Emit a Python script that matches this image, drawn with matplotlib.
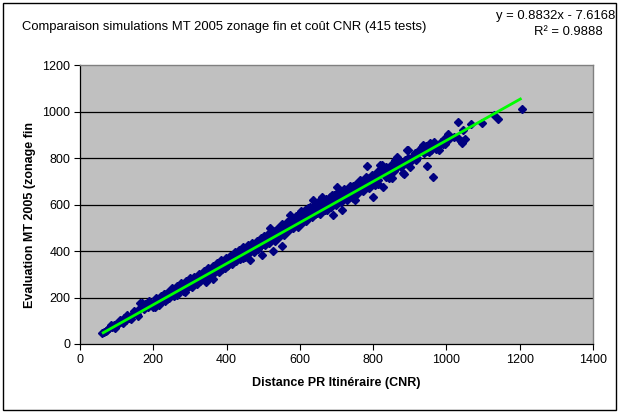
import matplotlib
matplotlib.use("Agg")
import matplotlib.pyplot as plt
from matplotlib.patches import Rectangle

plt.rcParams['font.family'] = ['Liberation Sans', 'DejaVu Sans']

# distance CNR (x) vs evaluation MT 2005 (y)
dist_cnr = [60, 65, 70, 75, 80, 88, 92, 98, 105, 110, 115, 120, 125, 130, 135, 140, 145, 150,
            155, 160, 164, 168, 172, 178, 182, 186, 190, 195, 200, 205, 210, 215, 218,
            222, 226, 230, 235, 238, 242, 246, 250, 254, 258, 262, 265, 270, 274, 278, 282,
            286, 290, 294, 298, 302, 305, 310, 314, 318, 320, 325, 328, 332, 336, 340, 344,
            348, 352, 356, 360, 364, 368, 372, 376, 380, 384, 388, 392, 396, 400,
            404, 408, 412, 416, 420, 424, 428, 432, 436, 440, 444, 448, 452, 456, 460, 464,
            468, 472, 476, 480, 484, 488, 492, 497, 500, 504, 508, 512, 518, 520, 524, 527,
            530, 534, 538, 542, 546, 551, 555, 558, 562, 566, 570, 573, 576, 580, 584, 588,
            592, 596, 600, 604, 608, 612, 616, 622, 626, 630, 636, 640, 644, 648, 652, 656,
            660, 664, 668, 672, 676, 680, 684, 688, 691, 696, 700,
            701, 705, 710, 715, 718, 722, 726, 730, 734, 738, 742, 746, 750, 754, 758, 762,
            766, 770, 774, 778, 783, 786, 790, 794, 800, 805, 808, 812, 816, 819, 824, 827,
            830, 832, 836, 840, 844, 851, 855, 860, 865, 868, 872, 876, 882, 884, 886, 892,
            896, 901, 905, 909, 915, 920, 925, 933, 936, 940, 947, 947, 952, 955, 960, 963,
            970, 975, 980, 985, 990, 997,
            1004, 1010, 1020, 1032, 1032, 1040, 1042, 1045, 1050, 1067, 1097, 1130, 1141, 1205,
            85, 95, 108, 118, 128, 138, 148, 158, 170, 176, 188, 198, 208, 214,
            228, 232, 240, 244, 252, 256, 264, 268, 276, 280, 288, 292, 300, 304, 312, 316,
            324, 330, 338, 342, 350, 354, 362, 366, 374, 378, 386, 390, 398, 402, 410, 414,
            422, 426, 434, 438, 446, 450, 458, 462, 470, 474, 482, 486, 494, 502, 506, 514,
            516, 526, 532, 540, 544, 550, 556, 564, 568, 578, 582, 590, 594, 602, 606, 614,
            618, 628, 634, 642, 650, 654, 662, 670, 674, 682, 686, 694, 698, 708, 712, 720,
            728, 736, 744, 752, 756, 764, 772, 780, 788, 796, 802, 810, 814, 822, 834, 842,
            848, 858, 863, 870, 878, 888, 894, 903, 912, 918, 928, 938, 944, 958, 966, 972,
            982, 994, 1000]
eval_mt = [47, 52, 58, 62, 70, 74, 80, 88, 88, 100, 96, 110, 104, 118, 112, 120, 128, 138,
           130, 150, 176, 160, 168, 172, 165, 160, 168, 175, 170, 160, 180, 168, 196,
           205, 190, 200, 215, 195, 210, 225, 212, 235, 220, 230, 210, 245, 232, 250, 238,
           225, 262, 250, 255, 270, 245, 275, 262, 280, 258, 290, 270, 300, 282, 288, 268,
           305, 295, 310, 300, 280, 320, 315, 332, 310, 335, 322, 340, 328, 352,
           340, 365, 350, 372, 360, 380, 368, 395, 378, 385, 372, 400, 388, 410, 395, 361,
           415, 405, 420, 410, 430, 418, 440, 383, 432, 452, 440, 460, 499, 450, 470, 400,
           462, 480, 468, 490, 478, 421, 500, 485, 510, 495, 520, 555, 505, 530, 515, 540,
           525, 548, 563, 535, 555, 540, 565, 585, 548, 570, 619, 558, 580, 565, 595, 575,
           632, 590, 575, 605, 590, 620, 600, 640, 555, 615, 630,
           675, 620, 645, 576, 630, 655, 640, 660, 635, 665, 650, 680, 619, 670, 690, 660,
           700, 680, 690, 705, 765, 690, 715, 700, 632, 684, 720, 705, 730, 770, 770, 675,
           735, 748, 720, 745, 730, 714, 760, 791, 804, 765, 775, 760, 735, 731, 790, 834,
           834, 761, 800, 804, 820, 800, 830, 847, 856, 840, 765, 829, 826, 864, 850, 718,
           855, 845, 834, 868, 860, 860,
           903, 885, 890, 955, 886, 875, 864, 920, 880, 946, 950, 985, 967, 1012,
           82, 70, 105, 92, 125, 108, 142, 122, 178, 150, 185, 158, 198, 170,
           215, 185, 225, 198, 240, 208, 250, 222, 262, 230, 272, 242, 282, 250, 290, 262,
           300, 275, 315, 280, 325, 290, 335, 305, 350, 318, 360, 325, 370, 335, 380, 345,
           395, 355, 405, 365, 418, 375, 425, 390, 435, 395, 445, 408, 455, 465, 425, 475,
           435, 488, 445, 500, 460, 515, 470, 525, 485, 540, 500, 552, 505, 570, 520, 578,
           530, 590, 545, 600, 610, 560, 615, 625, 575, 632, 590, 640, 600, 660, 610, 668,
           620, 680, 630, 690, 645, 705, 660, 720, 670, 728, 690, 740, 690, 755, 760, 715,
           770, 745, 780, 790, 780, 780, 800, 785, 815, 790, 840, 820, 850, 835, 870, 840,
           860, 880, 870]

# Excel linear trendline
slope = 0.8832
intercept = -7.6168

W, H = 620, 413
fig = plt.figure(figsize=(W / 100, H / 100), dpi=100)
ax = fig.add_axes([80 / W, 1 - 344 / H, 513 / W, 279 / H])
ax.set_facecolor('#c0c0c0')

for yv in range(200, 1200, 200):
    ax.axhline(yv, color='black', lw=0.9, zorder=1)

ax.plot(dist_cnr, eval_mt, linestyle='none', marker='D', markersize=4.0,
        color='#000080', zorder=2)

x_min, x_max = min(dist_cnr), max(dist_cnr)
ax.plot([x_min, x_max], [slope * x_min + intercept, slope * x_max + intercept],
        color='#00ff00', lw=2.0, zorder=3, solid_capstyle='butt')

ax.set_xlim(0, 1400)
ax.set_ylim(0, 1200)
ax.set_xticks(range(0, 1401, 200))
ax.set_yticks(range(0, 1201, 200))
ax.tick_params(direction='out', length=4, width=0.8, pad=3, labelsize=9, colors='black')

for side in ['top', 'right']:
    ax.spines[side].set_color('#808080')
    ax.spines[side].set_linewidth(1.0)
for side in ['left', 'bottom']:
    ax.spines[side].set_color('black')
    ax.spines[side].set_linewidth(0.9)

ax.set_xlabel('Distance PR Itinéraire (CNR)', fontsize=9, fontweight='bold', labelpad=8)
fig.text(30 / W, 1 - 215 / H, 'Evaluation MT 2005 (zonage fin', rotation=90,
         fontsize=9, fontweight='bold', ha='center', va='center')

fig.text(22 / W, 1 - 27 / H, 'Comparaison simulations MT 2005 zonage fin et coût CNR (415 tests)',
         fontsize=9.4, ha='left', va='center')
fig.text(615 / W, 1 - 16 / H, 'y = 0.8832x - 7.6168', fontsize=9.4, ha='right', va='center')
fig.text(568 / W, 1 - 32 / H, 'R² = 0.9888', fontsize=9.4, ha='center', va='center')

fig.patches.append(Rectangle((3 / W, 3 / H), 613 / W, 407 / H, transform=fig.transFigure,
                             fill=False, edgecolor='black', lw=1.0))

fig.savefig('out.png', dpi=100, facecolor='white')
